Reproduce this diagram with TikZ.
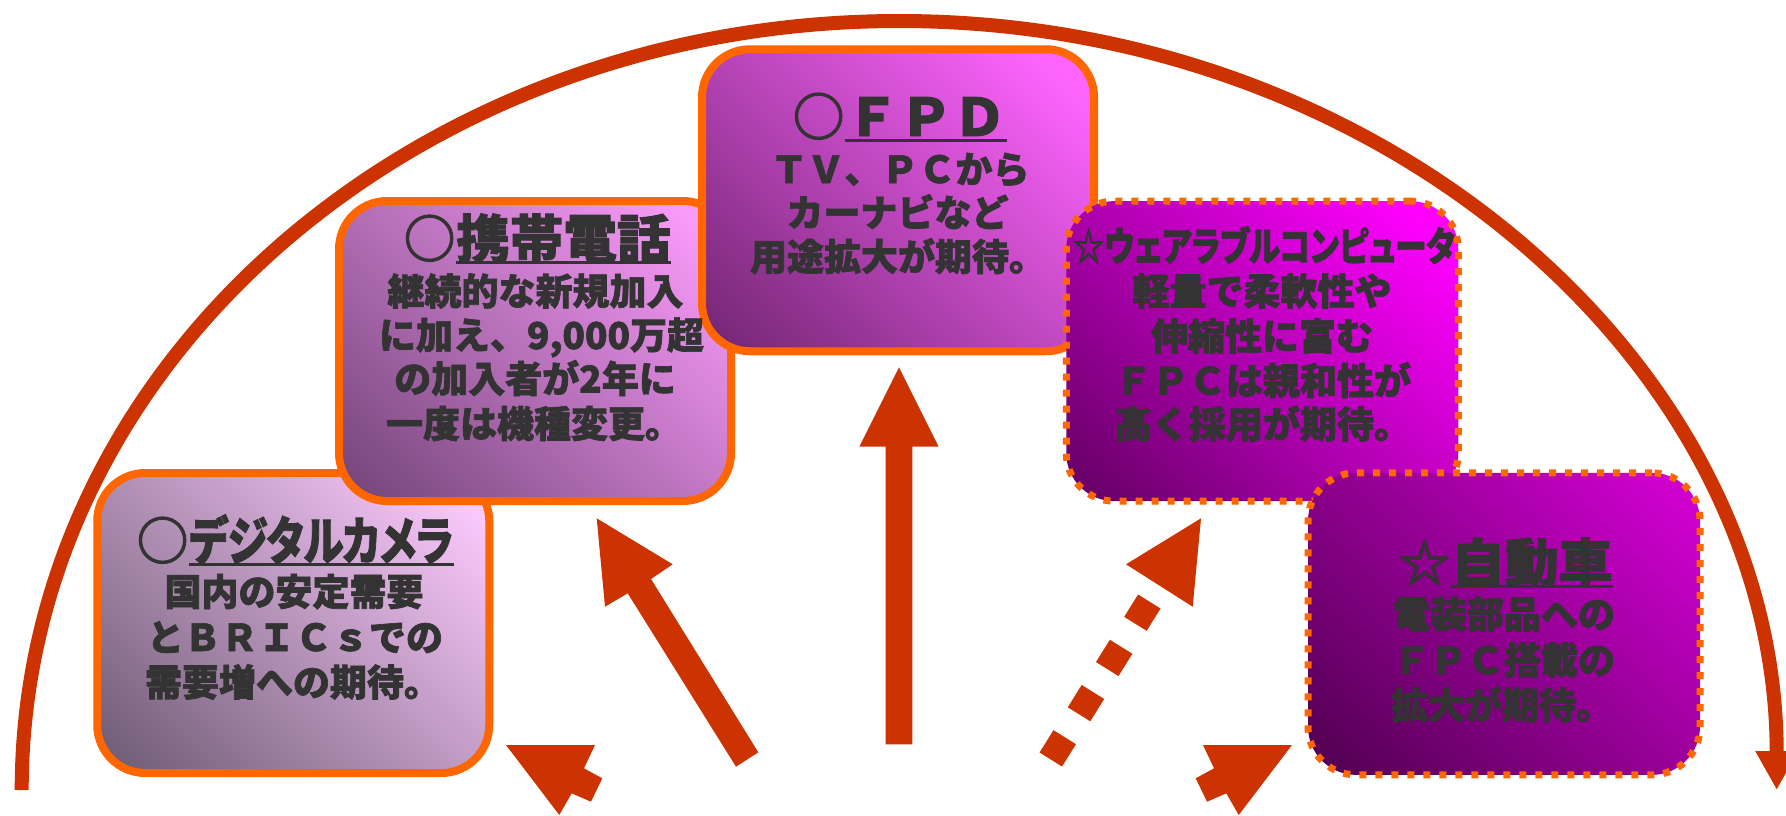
\documentclass[tikz,border=0pt]{standalone}
\usepackage{fontspec}
\usepackage{graphicx}
\usetikzlibrary{arrows.meta}
\newfontfamily\jp{Noto Sans CJK JP}[BoldFeatures={FakeBold=1.8}]
\newfontfamily\jpp{Noto Sans CJK JP}[RawFeature=+palt, BoldFeatures={FakeBold=1.8}]
\definecolor{arrowred}{RGB}{204,51,0}
\definecolor{borderor}{RGB}{255,102,0}
\definecolor{txtgray}{RGB}{51,51,51}
\definecolor{boxAlt}{RGB}{250,200,252}
\definecolor{boxAdk}{RGB}{115,95,120}
\definecolor{boxBlt}{RGB}{250,155,250}
\definecolor{boxBdk}{RGB}{120,72,125}
\definecolor{boxClt}{RGB}{255,100,255}
\definecolor{boxCdk}{RGB}{120,40,120}
\definecolor{boxDlt}{RGB}{255,0,255}
\definecolor{boxDdk}{RGB}{105,0,105}
\definecolor{boxElt}{RGB}{205,0,205}
\definecolor{boxEdk}{RGB}{85,0,85}
\pgfdeclareverticalshading{shA}{100bp}{color(0bp)=(boxAdk); color(18bp)=(boxAdk); color(80bp)=(boxAlt); color(100bp)=(boxAlt)}
\pgfdeclareverticalshading{shB}{100bp}{color(0bp)=(boxBdk); color(18bp)=(boxBdk); color(80bp)=(boxBlt); color(100bp)=(boxBlt)}
\pgfdeclareverticalshading{shC}{100bp}{color(0bp)=(boxCdk); color(18bp)=(boxCdk); color(80bp)=(boxClt); color(100bp)=(boxClt)}
\pgfdeclareverticalshading{shD}{100bp}{color(0bp)=(boxDdk); color(18bp)=(boxDdk); color(80bp)=(boxDlt); color(100bp)=(boxDlt)}
\pgfdeclareverticalshading{shE}{100bp}{color(0bp)=(boxEdk); color(18bp)=(boxEdk); color(80bp)=(boxElt); color(100bp)=(boxElt)}
\newcommand\hfit[2]{\resizebox{#1}{\height}{#2}}
\tikzset{
  panel/.style={rectangle, rounded corners=24pt, inner sep=0pt, minimum width=196pt, minimum height=150pt},
  solidpanel/.style={panel, draw=borderor, line width=4pt},
  dotpanel/.style={panel, draw=borderor, line width=3.5pt, dash pattern=on 3.5pt off 4.5pt},
  grad/.style={shade, shading=#1, shading angle=-45},
  bodytxt/.style={font={\jp\bfseries\fontsize{18.5pt}{22pt}\selectfont}, text=txtgray, anchor=base, inner sep=0pt},
  ttl/.style={font={\jp\bfseries\fontsize{26pt}{30pt}\selectfont}, text=txtgray, inner sep=0pt},
  uline/.style={draw=txtgray, line width=1.5pt},
  blockarrow/.style={fill=arrowred, draw=none},
  arcline/.style={draw=arrowred, line width=7pt},
}
\begin{document}
\begin{tikzpicture}[x=0.5pt,y=-0.5pt]
\useasboundingbox (0,0) rectangle (1786,815);
\fill[white] (0,0) rectangle (1786,815);

% big arc
\coordinate (arcstart) at (21.7,790);
\draw[arcline, -{Triangle[length=19.5pt,width=20pt]}] (arcstart) arc[start angle=180, end angle=0, x radius=438.75pt, y radius=384.5pt];

% boxes
\node[solidpanel, grad=shA] (box1) at (293.25,623) {};
\node[solidpanel, grad=shB] (box2) at (535,351) {};
\node[solidpanel, grad=shC, minimum height=151pt] (box3) at (898,200.25) {};
\node[dotpanel, grad=shD] (box4) at (1262.25,351.1) {};
\node[dotpanel, grad=shE, minimum height=151pt] (box5) at (1504,623.85) {};

% box 1 text
\node[ttl, anchor=base east] (t1c) at (189,560) {○};
\node[ttl, anchor=base west] (t1) at (189,560) {\hfit{132pt}{\jpp\bfseries デジタルカメラ}};
\draw[uline] ([yshift=-2pt]t1.base west) -- ([yshift=-2pt]t1.base east);
\node[bodytxt] (b1a) at (294,605.5) {国内の安定需要};
\node[bodytxt] (b1b) at (295,651) {とＢＲＩＣｓでの};
\node[bodytxt] (b1c) at (293,696) {需要増への期待。};

% box 2 text
\node[ttl, anchor=base east] (t2c) at (456,258) {○};
\node[ttl, anchor=base west] (t2) at (456,258) {\hfit{107pt}{携帯電話}};
\draw[uline] ([yshift=-2pt]t2.base west) -- ([yshift=-2pt]t2.base east);
\node[bodytxt] (b2a) at (535.5,305) {継続的な新規加入};
\node[bodytxt] (b2b) at (541.5,349) {に加え、9,000万超};
\node[bodytxt] (b2c) at (535,392.5) {の加入者が2年に};
\node[bodytxt] (b2d) at (534,437.5) {一度は機種変更。};

% box 3 text
\node[ttl, anchor=base east] (t3c) at (845,136) {○};
\node[ttl, anchor=base west] (t3) at (845,136) {\hfit{80.5pt}{ＦＰＤ}};
\draw[uline] ([yshift=-2pt]t3.base west) -- ([yshift=-2pt]t3.base east);
\node[bodytxt] (b3a) at (900,183) {ＴＶ、ＰＣから};
\node[bodytxt] (b3b) at (897.5,226.5) {カーナビなど};
\node[bodytxt] (b3c) at (898,270.5) {用途拡大が期待。};

% box 4 text
\node[ttl, anchor=base, font={\jpp\bfseries\fontsize{20pt}{24pt}\selectfont}] (t4) at (1264,261) {\hfit{191pt}{☆ウェアラブルコンピュータ}};
\node[bodytxt] (b4a) at (1262,305) {軽量で柔軟性や};
\node[bodytxt] (b4b) at (1262,350) {伸縮性に富む};
\node[bodytxt] (b4c) at (1263,394.5) {ＦＰＣは親和性が};
\node[bodytxt] (b4d) at (1263,438) {高く採用が期待。};

% box 5 text
\node[ttl, anchor=base east] (t5c) at (1451,582) {☆};
\node[ttl, anchor=base west] (t5) at (1451,582) {\hfit{80.5pt}{自動車}};
\draw[uline] ([yshift=-2pt]t5.base west) -- ([yshift=-2pt]t5.base east);
\node[bodytxt] (b5a) at (1504,628) {電装部品への};
\node[bodytxt] (b5b) at (1504,674) {ＦＰＣ搭載の};
\node[bodytxt] (b5c) at (1502,719) {拡大が期待。};

% block arrows
\fill[blockarrow] (506,745) -- (595,745) -- (584,768.3) -- (602.3,778.3) -- (591,801.7) -- (571.7,793.3) -- (559.3,815) -- cycle;
\fill[blockarrow] (596.7,518.3) -- (672.7,564.3) -- (651,579) -- (758.3,752.3) -- (736,766.7) -- (627.7,593.3) -- (605,606.7) -- cycle;
\fill[blockarrow] (899,367.3) -- (938.7,446.7) -- (912.3,446.7) -- (912.3,744.3) -- (885.7,744.3) -- (885.7,446.7) -- (859.3,446.7) -- cycle;
\coordinate (d0) at (1050.8,759.5);
\coordinate (d1) at (1159.3,585.5);
\draw[draw=arrowred, line width=13.25pt, dash pattern=on 13.15pt off 13.5pt] (d0) -- (d1);
\fill[blockarrow] (1201,518.3) -- (1126,564.3) -- (1192.7,606.7) -- cycle;
\fill[blockarrow] (1292,745) -- (1203,745) -- (1214,768.3) -- (1195.7,778.3) -- (1207,801.7) -- (1226.3,793.3) -- (1238.7,815) -- cycle;
\end{tikzpicture}
\end{document}
